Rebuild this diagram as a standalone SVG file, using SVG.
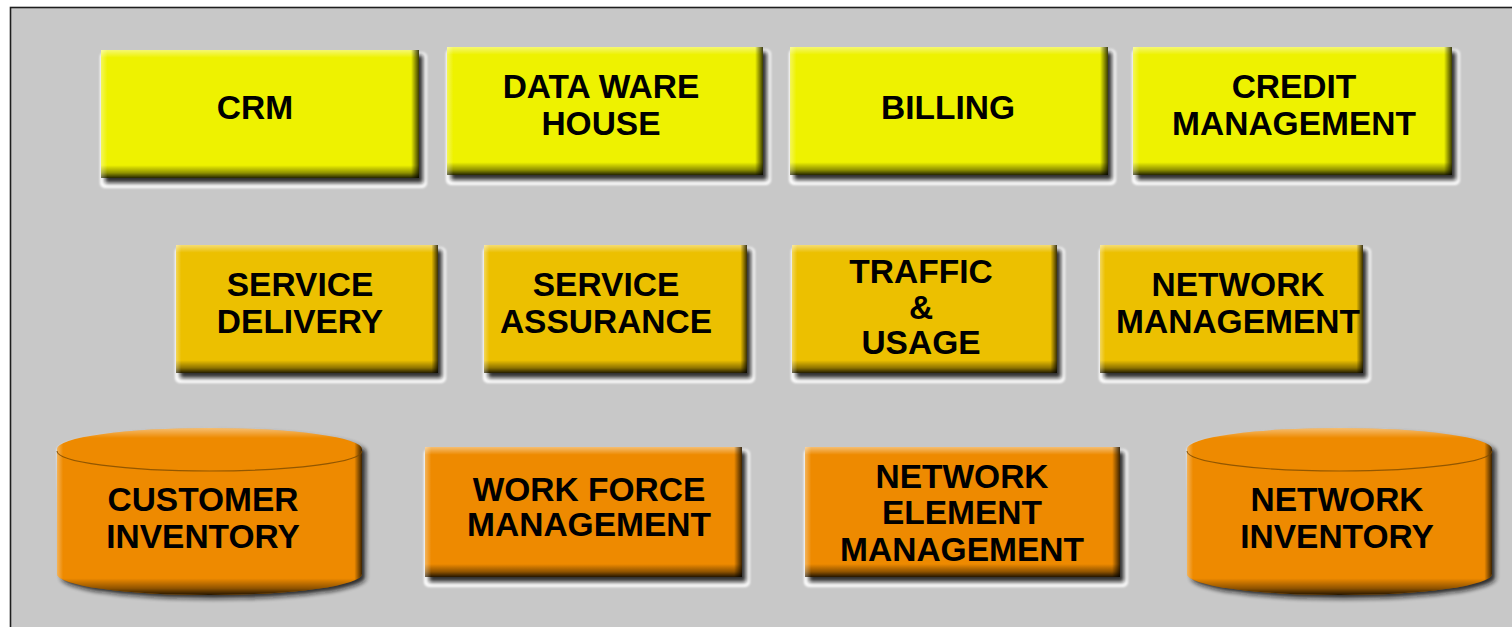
<svg xmlns="http://www.w3.org/2000/svg" width="1512" height="627" viewBox="0 0 1512 627">
<defs>
<style>
.frame{fill:#c8c8c8;stroke:#1e1e1e;stroke-width:1.6}
.halo{fill:#ffffff;filter:url(#hb)}
.shd{fill:#111;opacity:.85;filter:url(#sb)}
.yl{fill:#eef200}
.gd{fill:#ecc000}
.or{fill:#ee8a00}
.bv{fill:url(#gv)}
.bh{fill:url(#gh)}
.rim{fill:none;stroke:#7a4a00;stroke-width:1.2;opacity:.8}
text{font-family:"Liberation Sans",Arial,sans-serif;font-weight:bold;font-size:33.5px;fill:#000;text-anchor:middle}
</style>
<filter id="hb" x="-10%" y="-10%" width="120%" height="130%"><feGaussianBlur stdDeviation="1.2"/></filter>
<filter id="sb" x="-10%" y="-10%" width="120%" height="130%"><feGaussianBlur stdDeviation="2"/></filter>
<linearGradient id="gv" x1="0" y1="0" x2="0" y2="1">
<stop offset="0" stop-color="#fff" stop-opacity=".45"/>
<stop offset=".06" stop-color="#fff" stop-opacity="0"/>
<stop offset=".9" stop-color="#000" stop-opacity="0"/>
<stop offset=".96" stop-color="#000" stop-opacity=".4"/>
<stop offset="1" stop-color="#000" stop-opacity=".85"/>
</linearGradient>
<linearGradient id="gh" x1="0" y1="0" x2="1" y2="0">
<stop offset="0" stop-color="#fff" stop-opacity=".35"/>
<stop offset=".02" stop-color="#fff" stop-opacity="0"/>
<stop offset=".975" stop-color="#000" stop-opacity="0"/>
<stop offset="1" stop-color="#000" stop-opacity=".75"/>
</linearGradient>
</defs>
<rect x="0" y="0" width="1512" height="627" fill="#ffffff"/>
<rect class="frame" x="10.5" y="7.5" width="1520" height="640"/>

<g id="crm">
<rect class="halo" x="100" y="52" width="327" height="136" rx="5"/>
<rect class="shd" x="105" y="55" width="318" height="128"/>
<rect class="yl" x="101" y="50" width="318" height="128"/>
<rect class="bv" x="101" y="50" width="318" height="128"/>
<rect class="bh" x="101" y="50" width="318" height="128"/>
<text x="255" y="119">CRM</text>
</g>

<g id="datawarehouse">
<rect class="halo" x="446" y="49" width="325" height="136" rx="5"/>
<rect class="shd" x="451" y="52" width="316" height="128"/>
<rect class="yl" x="447" y="47" width="316" height="128"/>
<rect class="bv" x="447" y="47" width="316" height="128"/>
<rect class="bh" x="447" y="47" width="316" height="128"/>
<text x="601" y="98">DATA WARE</text>
<text x="601" y="135">HOUSE</text>
</g>

<g id="billing">
<rect class="halo" x="789" y="49" width="327" height="136" rx="5"/>
<rect class="shd" x="794" y="52" width="318" height="128"/>
<rect class="yl" x="790" y="47" width="318" height="128"/>
<rect class="bv" x="790" y="47" width="318" height="128"/>
<rect class="bh" x="790" y="47" width="318" height="128"/>
<text x="948" y="119">BILLING</text>
</g>

<g id="credit">
<rect class="halo" x="1132" y="49" width="328" height="136" rx="5"/>
<rect class="shd" x="1137" y="52" width="319" height="128"/>
<rect class="yl" x="1133" y="47" width="319" height="128"/>
<rect class="bv" x="1133" y="47" width="319" height="128"/>
<rect class="bh" x="1133" y="47" width="319" height="128"/>
<text x="1294" y="98">CREDIT</text>
<text x="1294" y="135">MANAGEMENT</text>
</g>

<g id="servicedelivery">
<rect class="halo" x="175" y="247" width="271" height="136" rx="5"/>
<rect class="shd" x="180" y="250" width="262" height="128"/>
<rect class="gd" x="176" y="245" width="262" height="128"/>
<rect class="bv" x="176" y="245" width="262" height="128"/>
<rect class="bh" x="176" y="245" width="262" height="128"/>
<text x="300" y="296">SERVICE</text>
<text x="300" y="333">DELIVERY</text>
</g>

<g id="serviceassurance">
<rect class="halo" x="483" y="247" width="272" height="136" rx="5"/>
<rect class="shd" x="488" y="250" width="263" height="128"/>
<rect class="gd" x="484" y="245" width="263" height="128"/>
<rect class="bv" x="484" y="245" width="263" height="128"/>
<rect class="bh" x="484" y="245" width="263" height="128"/>
<text x="606" y="296">SERVICE</text>
<text x="606" y="333">ASSURANCE</text>
</g>

<g id="traffic">
<rect class="halo" x="791" y="247" width="274" height="136" rx="5"/>
<rect class="shd" x="796" y="250" width="265" height="128"/>
<rect class="gd" x="792" y="245" width="265" height="128"/>
<rect class="bv" x="792" y="245" width="265" height="128"/>
<rect class="bh" x="792" y="245" width="265" height="128"/>
<text x="921" y="283">TRAFFIC</text>
<text x="921" y="319">&amp;</text>
<text x="921" y="354">USAGE</text>
</g>

<g id="networkmanagement">
<rect class="halo" x="1099" y="247" width="272" height="136" rx="5"/>
<rect class="shd" x="1104" y="250" width="263" height="128"/>
<rect class="gd" x="1100" y="245" width="263" height="128"/>
<rect class="bv" x="1100" y="245" width="263" height="128"/>
<rect class="bh" x="1100" y="245" width="263" height="128"/>
<text x="1238" y="296">NETWORK</text>
<text x="1238" y="333">MANAGEMENT</text>
</g>

<g id="customerinventory">
<path class="halo" d="M57,450 A152.5,21 0 0 1 364,450 L367,577 A152.5,22 0 0 1 60,577 Z"/>
<path class="shd" d="M61,452 A152.5,21 0 0 1 366,452 L366,578 A152.5,21 0 0 1 61,578 Z"/>
<path class="or" d="M57,449 A152.5,21 0 0 1 362,449 L362,574 A152.5,21 0 0 1 57,574 Z"/>
<path class="bv" d="M57,449 A152.5,21 0 0 1 362,449 L362,574 A152.5,21 0 0 1 57,574 Z"/>
<path class="bh" d="M57,449 A152.5,21 0 0 1 362,449 L362,574 A152.5,21 0 0 1 57,574 Z"/>
<path class="rim" d="M57,451 A152.5,20 0 0 0 362,451"/>
<text x="203" y="511">CUSTOMER</text>
<text x="203" y="548">INVENTORY</text>
</g>

<g id="workforce">
<rect class="halo" x="424" y="449" width="326" height="138" rx="5"/>
<rect class="shd" x="429" y="452" width="317" height="130"/>
<rect class="or" x="425" y="447" width="317" height="130"/>
<rect class="bv" x="425" y="447" width="317" height="130"/>
<rect class="bh" x="425" y="447" width="317" height="130"/>
<text x="589" y="501">WORK FORCE</text>
<text x="589" y="536">MANAGEMENT</text>
</g>

<g id="networkelement">
<rect class="halo" x="804" y="449" width="324" height="138" rx="5"/>
<rect class="shd" x="809" y="452" width="315" height="130"/>
<rect class="or" x="805" y="447" width="315" height="130"/>
<rect class="bv" x="805" y="447" width="315" height="130"/>
<rect class="bh" x="805" y="447" width="315" height="130"/>
<text x="962" y="488">NETWORK</text>
<text x="962" y="524">ELEMENT</text>
<text x="962" y="561">MANAGEMENT</text>
</g>

<g id="networkinventory">
<path class="halo" d="M1187,450 A152.5,21 0 0 1 1494,450 L1497,577 A152.5,22 0 0 1 1190,577 Z"/>
<path class="shd" d="M1191,452 A152.5,21 0 0 1 1496,452 L1496,578 A152.5,21 0 0 1 1191,578 Z"/>
<path class="or" d="M1187,449 A152.5,21 0 0 1 1492,449 L1492,574 A152.5,21 0 0 1 1187,574 Z"/>
<path class="bv" d="M1187,449 A152.5,21 0 0 1 1492,449 L1492,574 A152.5,21 0 0 1 1187,574 Z"/>
<path class="bh" d="M1187,449 A152.5,21 0 0 1 1492,449 L1492,574 A152.5,21 0 0 1 1187,574 Z"/>
<path class="rim" d="M1187,451 A152.5,20 0 0 0 1492,451"/>
<text x="1337" y="511">NETWORK</text>
<text x="1337" y="548">INVENTORY</text>
</g>

<g id="connectors"></g>
</svg>
